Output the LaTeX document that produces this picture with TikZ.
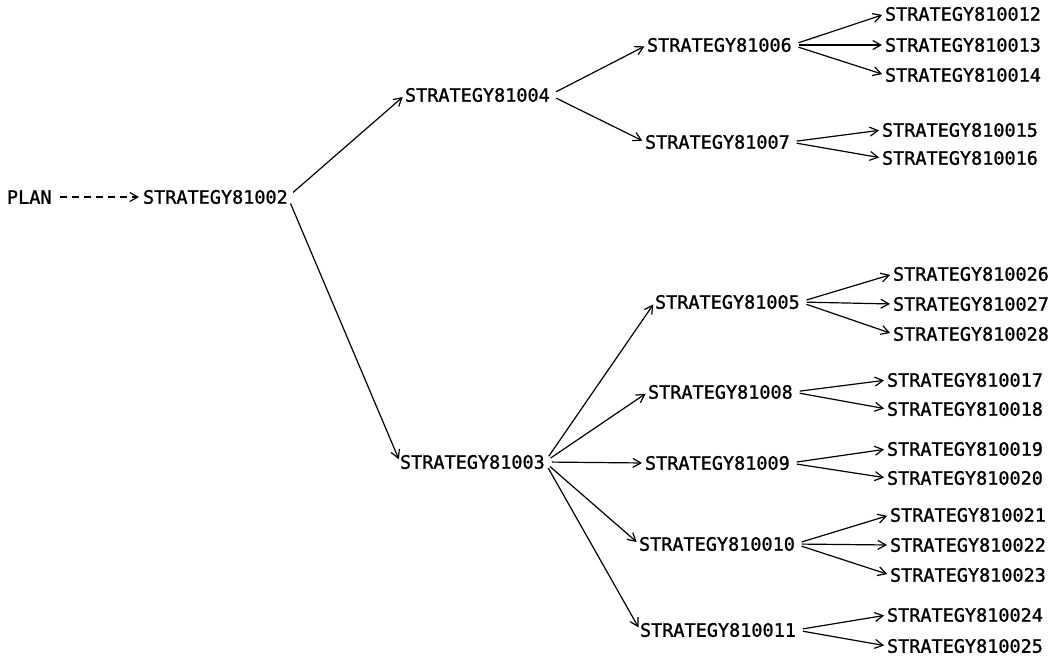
\documentclass[tikz,border=0pt]{standalone}
\usepackage{fontspec}
\usetikzlibrary{arrows.meta}
\newfontfamily\plotfont{DejaVu Sans Mono}[FakeBold=1.2]
\begin{document}
\begin{tikzpicture}[x=1pt,y=-1pt,
  lbl/.style={anchor=west,inner sep=0pt,outer sep=0pt,
    font=\plotfont\fontsize{18.5}{20}\selectfont},
  tip/.style={-{Straight Barb[length=8pt,width=9pt,line width=1.2pt]}},
  link/.style={line width=1.2pt,tip,shorten <=7pt,shorten >=3pt},
  pend/.style={line width=1.2pt,tip,dash pattern=on 7pt off 5pt,
    shorten <=8pt,shorten >=4pt}]
\useasboundingbox (0,0) rectangle (1056,657);
% root and first level
\node[lbl] (plan) at (7,197) {PLAN};
\node[lbl] (s2) at (143,197) {STRATEGY81002};
\node[lbl] (s4) at (405,95) {STRATEGY81004};
\node[lbl] (s3) at (400,462) {STRATEGY81003};
% upper branch
\node[lbl] (s6) at (647,45) {STRATEGY81006};
\node[lbl] (s7) at (645,142) {STRATEGY81007};
\node[lbl] (s12) at (885,14) {STRATEGY810012};
\node[lbl] (s13) at (885,45) {STRATEGY810013};
\node[lbl] (s14) at (885,75) {STRATEGY810014};
\node[lbl] (s15) at (882,130) {STRATEGY810015};
\node[lbl] (s16) at (882,158) {STRATEGY810016};
% lower branch
\node[lbl] (s5) at (655,302) {STRATEGY81005};
\node[lbl] (s8) at (648,392) {STRATEGY81008};
\node[lbl] (s9) at (645,463) {STRATEGY81009};
\node[lbl] (s10) at (639,544) {STRATEGY810010};
\node[lbl] (s11) at (640,630) {STRATEGY810011};
\node[lbl] (s26) at (893,274) {STRATEGY810026};
\node[lbl] (s27) at (893,304) {STRATEGY810027};
\node[lbl] (s28) at (893,334) {STRATEGY810028};
\node[lbl] (s17) at (887,380) {STRATEGY810017};
\node[lbl] (s18) at (887,409) {STRATEGY810018};
\node[lbl] (s19) at (887,449) {STRATEGY810019};
\node[lbl] (s20) at (887,478) {STRATEGY810020};
\node[lbl] (s21) at (890,515) {STRATEGY810021};
\node[lbl] (s22) at (890,545) {STRATEGY810022};
\node[lbl] (s23) at (890,575) {STRATEGY810023};
\node[lbl] (s24) at (887,615) {STRATEGY810024};
\node[lbl] (s25) at (887,646) {STRATEGY810025};
% connectors
\draw[pend] (plan.east) -- (s2.west);
\foreach \p/\c in {s2/s4,s2/s3,s4/s6,s4/s7,s6/s12,s6/s13,s6/s14,s7/s15,s7/s16,
  s3/s5,s3/s8,s3/s9,s3/s10,s3/s11,s5/s26,s5/s27,s5/s28,s8/s17,s8/s18,
  s9/s19,s9/s20,s10/s21,s10/s22,s10/s23,s11/s24,s11/s25}
  \draw[link] (\p.east) -- (\c.west);
\end{tikzpicture}
\end{document}
